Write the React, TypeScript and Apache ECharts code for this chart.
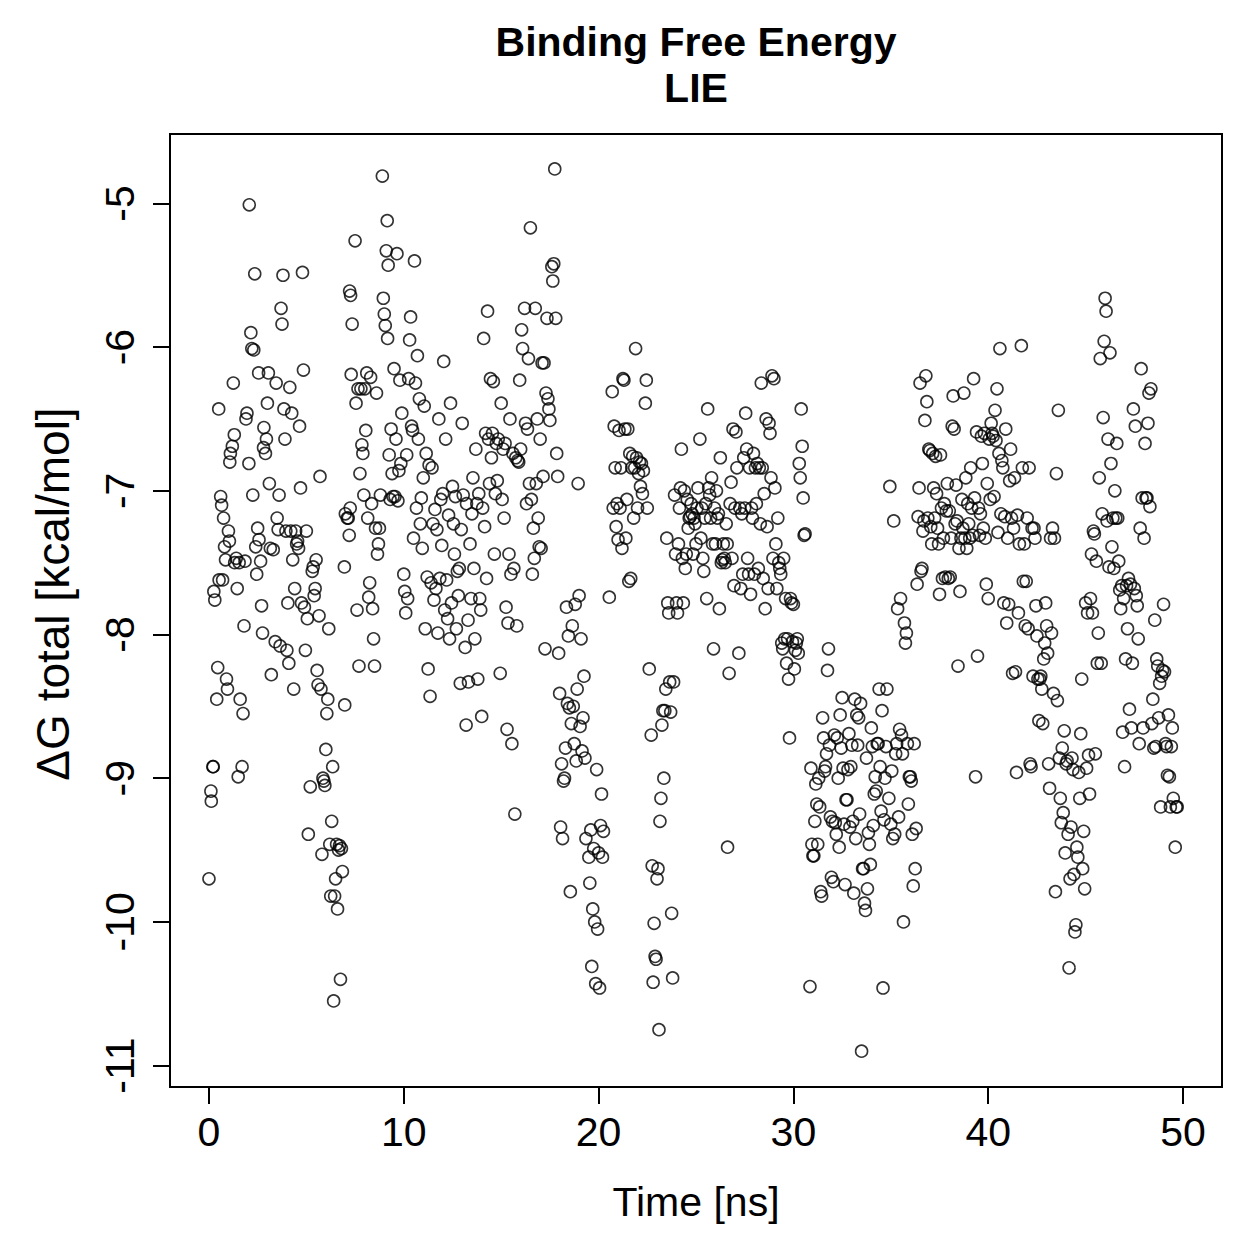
import React, { useEffect, useRef } from "react";
import * as echarts from "echarts";

// Axis ticks (ns / kcal·mol⁻¹) and plotting ranges (data range padded by 4 %)
const X_TICKS = [0, 10, 20, 30, 40, 50];
const Y_TICKS = [-11, -10, -9, -8, -7, -6, -5];
const X_MIN = -2;
const X_MAX = 52;
const Y_MIN = -11.149;
const Y_MAX = -4.517;

const TITLE = "Binding Free Energy";
const SUBTITLE = "LIE";
const X_NAME = "Time [ns]";
const Y_NAME = "ΔG total [kcal/mol]";

// LIE binding free energy along the trajectory: [time (ns), ΔG (kcal/mol)]
const dG_00_07: [number, number][] = [
  [0.1, -9.09], [0.12, -9.16], [0.0, -9.7], [0.25, -7.7], [0.3, -7.76], [0.2, -8.92], [0.22, -8.92], [0.45, -8.23],
  [0.5, -6.43], [0.52, -7.62], [0.4, -8.45], [0.6, -7.04], [0.65, -7.1], [0.7, -7.62], [0.75, -7.19], [0.8, -7.39],
  [0.85, -7.48], [0.9, -8.31], [0.95, -8.38], [1.0, -7.28], [1.05, -7.35], [1.07, -6.8], [1.1, -6.74], [1.2, -6.69],
  [1.3, -6.61], [1.25, -6.25], [1.32, -7.5], [1.4, -7.47], [1.45, -7.68], [1.5, -8.99], [1.55, -7.5], [1.6, -8.45],
  [1.7, -8.92], [1.75, -8.55], [1.8, -7.94], [1.85, -7.49], [1.9, -6.5], [1.95, -6.46], [2.05, -6.81], [2.07, -5.01],
  [2.15, -5.9], [2.2, -6.01], [2.25, -7.03], [2.3, -6.02], [2.35, -5.49], [2.4, -7.39], [2.45, -7.58], [2.5, -7.26],
  [2.55, -6.18], [2.57, -7.34], [2.65, -7.49], [2.7, -7.8], [2.75, -7.99], [2.8, -6.7], [2.82, -6.56], [2.9, -6.74],
  [2.95, -6.64], [3.0, -6.39], [3.05, -6.18], [3.1, -6.95], [3.15, -7.4], [3.2, -8.28], [3.3, -7.41], [3.4, -8.05],
  [3.45, -6.25], [3.5, -7.19], [3.55, -7.27], [3.6, -7.03], [3.65, -8.08], [3.7, -5.73], [3.75, -5.84], [3.8, -5.5],
  [3.85, -6.43], [3.9, -6.64], [3.95, -7.28], [4.0, -8.11], [4.05, -7.78], [4.1, -8.2], [4.15, -6.28], [4.2, -7.28],
  [4.25, -6.46], [4.3, -7.48], [4.35, -8.38], [4.4, -7.68], [4.45, -7.28], [4.5, -7.37], [4.55, -7.35], [4.6, -7.4],
  [4.65, -6.55], [4.7, -6.98], [4.75, -7.78], [4.8, -5.48], [4.85, -6.16], [4.9, -7.81], [4.95, -8.11], [5.0, -7.28],
  [5.05, -7.89], [5.1, -9.39], [5.2, -9.06], [5.3, -7.56], [5.35, -7.53], [5.4, -7.73], [5.45, -7.68], [5.5, -7.48],
  [5.55, -8.25], [5.6, -8.35], [5.65, -7.87], [5.7, -6.9], [5.75, -8.38], [5.8, -9.53], [5.85, -9.0], [5.9, -9.02],
  [5.95, -9.05], [6.0, -8.8], [6.05, -8.55], [6.1, -8.45], [6.15, -7.96], [6.2, -9.46], [6.25, -9.82], [6.3, -9.3],
  [6.35, -8.92], [6.4, -10.55], [6.45, -9.82], [6.5, -9.7], [6.55, -9.46], [6.6, -9.91], [6.65, -9.5], [6.7, -9.47],
  [6.75, -10.4], [6.8, -9.49], [6.85, -9.65], [6.95, -7.53], [6.97, -8.49],
];

const dG_07_14: [number, number][] = [
  [7.0, -7.16], [7.1, -7.19], [7.15, -7.19], [7.2, -7.31], [7.25, -7.12], [7.22, -5.61], [7.27, -5.64], [7.3, -6.19],
  [7.35, -5.84], [7.5, -5.26], [7.55, -6.39], [7.6, -7.83], [7.65, -6.29], [7.7, -8.22], [7.75, -6.88], [7.8, -6.29],
  [7.85, -6.68], [7.9, -6.74], [7.95, -7.03], [8.0, -6.29], [8.05, -6.58], [8.1, -6.18], [8.15, -7.19], [8.2, -7.74],
  [8.25, -7.64], [8.3, -6.21], [8.35, -7.09], [8.4, -7.82], [8.45, -8.03], [8.5, -8.22], [8.55, -7.26], [8.6, -6.32],
  [8.65, -7.44], [8.7, -7.37], [8.75, -7.26], [8.8, -7.03], [8.9, -4.81], [8.95, -5.66], [9.0, -5.77], [9.05, -5.85],
  [9.1, -5.33], [9.15, -5.12], [9.17, -5.94], [9.2, -5.43], [9.25, -6.75], [9.3, -7.06], [9.35, -6.57], [9.4, -6.88],
  [9.45, -7.04], [9.5, -6.15], [9.55, -7.04], [9.6, -6.64], [9.65, -5.35], [9.7, -7.07], [9.75, -6.86], [9.8, -6.23],
  [9.85, -6.81], [9.9, -6.46], [10.0, -7.58], [10.05, -7.7], [10.1, -7.85], [10.15, -6.75], [10.2, -7.75], [10.25, -6.22],
  [10.3, -5.95], [10.35, -5.79], [10.4, -6.55], [10.45, -6.58], [10.5, -7.33], [10.55, -5.4], [10.6, -6.25], [10.65, -7.12],
  [10.7, -6.06], [10.75, -6.64], [10.8, -6.36], [10.85, -7.23], [10.9, -7.05], [10.95, -7.4], [11.0, -6.91], [11.05, -6.41],
  [11.1, -7.96], [11.15, -6.74], [11.2, -7.6], [11.25, -8.24], [11.3, -6.82], [11.35, -8.43], [11.4, -7.64], [11.45, -6.84],
  [11.5, -7.23], [11.55, -7.76], [11.6, -7.13], [11.65, -7.68], [11.7, -7.27], [11.75, -7.99], [11.8, -6.5], [11.85, -7.61],
  [11.9, -7.06], [11.95, -7.38], [12.0, -7.02], [12.05, -6.1], [12.1, -7.83], [12.15, -6.64], [12.2, -7.62], [12.25, -7.89],
  [12.3, -7.17], [12.35, -8.03], [12.4, -6.39], [12.45, -7.78], [12.5, -6.97], [12.55, -7.23], [12.6, -7.44], [12.65, -7.04],
  [12.7, -7.96], [12.75, -7.56], [12.8, -7.73], [12.85, -7.54], [12.9, -8.34], [12.95, -7.27], [13.0, -6.53], [13.05, -7.03],
  [13.15, -8.09], [13.2, -8.63], [13.22, -7.09], [13.3, -7.9], [13.32, -8.33], [13.4, -7.37], [13.45, -7.75], [13.5, -7.16],
  [13.55, -6.91], [13.6, -7.54], [13.65, -8.03], [13.7, -6.71], [13.75, -7.09], [13.8, -8.31], [13.85, -7.02], [13.9, -7.75],
  [13.95, -7.83],
];

const dG_14_21: [number, number][] = [
  [14.0, -8.57], [14.05, -7.12], [14.1, -5.94], [14.15, -7.25], [14.2, -6.6], [14.25, -7.61], [14.3, -5.75], [14.35, -6.64],
  [14.4, -6.95], [14.45, -6.22], [14.5, -6.77], [14.55, -6.6], [14.6, -6.24], [14.65, -7.44], [14.7, -7.02], [14.75, -6.67],
  [14.8, -6.93], [14.85, -6.64], [14.95, -8.27], [15.0, -6.39], [15.05, -7.06], [15.1, -6.71], [15.15, -7.19], [15.2, -6.67],
  [15.25, -7.81], [15.3, -8.66], [15.35, -7.92], [15.4, -7.44], [15.45, -6.5], [15.5, -7.58], [15.55, -8.76], [15.6, -6.74],
  [15.65, -7.54], [15.7, -9.25], [15.75, -6.77], [15.8, -7.94], [15.85, -6.79], [15.9, -6.8], [15.95, -6.23], [16.0, -6.71],
  [16.05, -5.88], [16.1, -6.01], [16.2, -5.73], [16.25, -6.53], [16.3, -7.09], [16.35, -6.57], [16.4, -6.08], [16.45, -6.95],
  [16.5, -5.17], [16.55, -7.06], [16.6, -7.58], [16.65, -7.26], [16.7, -7.47], [16.75, -5.73], [16.8, -6.95], [16.85, -6.5],
  [16.9, -7.19], [16.95, -7.39], [17.0, -6.64], [17.05, -7.4], [17.1, -6.11], [17.15, -6.9], [17.2, -6.11], [17.25, -8.1],
  [17.3, -6.32], [17.35, -5.8], [17.4, -6.36], [17.45, -6.43], [17.5, -6.51], [17.6, -5.44], [17.65, -5.54], [17.7, -5.42],
  [17.75, -4.76], [17.8, -5.8], [17.85, -6.74], [17.9, -6.9], [17.95, -8.13], [18.0, -8.41], [18.05, -9.34], [18.1, -8.9],
  [18.15, -9.42], [18.2, -9.02], [18.25, -9.0], [18.3, -8.79], [18.35, -7.81], [18.4, -8.48], [18.45, -8.01], [18.5, -8.51],
  [18.55, -9.79], [18.6, -8.62], [18.65, -7.94], [18.7, -8.5], [18.75, -8.76], [18.8, -7.79], [18.85, -8.88], [18.9, -8.38],
  [18.95, -6.95], [19.0, -7.73], [19.05, -8.64], [19.1, -8.03], [19.15, -8.81], [19.2, -8.58], [19.25, -8.29], [19.3, -8.86],
  [19.35, -9.42], [19.5, -9.55], [19.55, -9.73], [19.6, -9.36], [19.65, -10.31], [19.7, -9.91], [19.75, -9.49], [19.8, -10.0],
  [19.85, -10.43], [19.9, -8.94], [19.95, -10.05], [20.0, -9.52], [20.05, -10.46], [20.1, -9.33], [20.15, -9.11], [20.2, -9.55],
  [20.25, -9.37], [20.55, -7.74], [20.7, -6.31], [20.75, -7.12], [20.8, -6.55], [20.85, -6.84], [20.9, -7.25], [20.95, -7.09],
];

const dG_21_30: [number, number][] = [
  [21.0, -7.34], [21.05, -6.58], [21.1, -7.12], [21.15, -6.84], [21.2, -7.4], [21.25, -6.22], [21.3, -6.23], [21.35, -6.57],
  [21.4, -7.33], [21.45, -7.06], [21.5, -6.57], [21.55, -7.63], [21.6, -6.74], [21.65, -7.61], [21.7, -6.84], [21.75, -6.76],
  [21.8, -7.19], [21.85, -6.84], [21.9, -6.01], [21.95, -6.77], [22.0, -7.12], [22.05, -6.88], [22.1, -6.8], [22.15, -6.97],
  [22.2, -6.81], [22.25, -7.02], [22.3, -6.86], [22.4, -6.39], [22.45, -6.23], [22.5, -7.12], [22.6, -8.24], [22.7, -8.7],
  [22.75, -9.61], [22.8, -10.42], [22.85, -10.01], [22.9, -10.24], [22.95, -10.26], [23.0, -9.7], [23.05, -9.63], [23.1, -10.75],
  [23.15, -9.3], [23.2, -9.14], [23.25, -8.63], [23.3, -8.53], [23.35, -9.0], [23.4, -8.53], [23.45, -8.38], [23.5, -7.33],
  [23.55, -7.78], [23.6, -7.85], [23.65, -8.33], [23.7, -8.54], [23.75, -9.94], [23.8, -10.39], [23.85, -8.33], [23.9, -7.03],
  [23.95, -7.44], [24.0, -7.78], [24.05, -7.85], [24.1, -7.37], [24.15, -7.12], [24.2, -6.98], [24.25, -6.71], [24.3, -7.47],
  [24.35, -7.78], [24.4, -7.0], [24.45, -7.54], [24.5, -7.44], [24.55, -7.06], [24.6, -7.26], [24.65, -7.19], [24.7, -7.18],
  [24.75, -7.09], [24.8, -7.16], [24.85, -7.44], [24.9, -7.19], [24.95, -7.23], [25.0, -7.37], [25.05, -7.12], [25.1, -6.98],
  [25.2, -6.64], [25.25, -7.33], [25.3, -7.12], [25.35, -7.47], [25.4, -7.56], [25.45, -7.19], [25.5, -7.09], [25.55, -7.75],
  [25.6, -6.43], [25.65, -6.98], [25.7, -7.03], [25.75, -7.19], [25.8, -6.91], [25.85, -7.37], [25.9, -8.1], [25.95, -7.12],
  [26.0, -7.37], [26.05, -7.0], [26.1, -7.19], [26.15, -7.16], [26.2, -7.82], [26.25, -6.77], [26.3, -7.5], [26.35, -7.48],
  [26.4, -7.37], [26.45, -7.47], [26.5, -7.5], [26.55, -7.23], [26.6, -7.37], [26.62, -9.48], [26.7, -8.27], [26.75, -7.09],
  [26.8, -6.94], [26.85, -7.47], [26.9, -6.57], [26.95, -7.66], [27.0, -7.12], [27.05, -6.59], [27.1, -6.84], [27.2, -8.13],
  [27.25, -7.12], [27.3, -7.68], [27.35, -7.16], [27.4, -7.58], [27.45, -6.77], [27.5, -7.12], [27.55, -6.46], [27.6, -6.71],
  [27.65, -7.47], [27.7, -7.58], [27.75, -6.84], [27.8, -7.72], [27.85, -7.12], [27.9, -7.19], [27.95, -6.74], [28.0, -7.58],
  [28.05, -6.84], [28.1, -7.09], [28.15, -6.81], [28.2, -7.54], [28.25, -6.84], [28.3, -7.23], [28.35, -6.25], [28.4, -6.84],
  [28.45, -7.61], [28.5, -7.02], [28.55, -7.82], [28.6, -6.5], [28.65, -7.25], [28.7, -7.68], [28.75, -6.53], [28.8, -6.6],
  [28.85, -6.91], [28.9, -6.2], [28.95, -7.47], [29.0, -6.22], [29.05, -6.98], [29.1, -7.37], [29.15, -7.68], [29.2, -7.19],
  [29.25, -7.5], [29.3, -7.54], [29.35, -7.58], [29.4, -8.06], [29.45, -8.1], [29.5, -7.47], [29.55, -8.03], [29.6, -7.75],
  [29.65, -8.2], [29.7, -8.03], [29.75, -8.31], [29.8, -8.72], [29.85, -7.75], [29.9, -7.78], [29.95, -8.05],
];

const dG_30_37: [number, number][] = [
  [30.0, -7.79], [30.05, -8.24], [30.1, -8.11], [30.15, -8.06], [30.2, -8.03], [30.25, -8.13], [30.3, -6.81], [30.35, -6.91],
  [30.4, -6.43], [30.45, -6.69], [30.5, -7.05], [30.55, -7.31], [30.6, -7.3], [30.85, -10.45], [30.9, -8.93], [30.95, -9.46],
  [31.0, -9.54], [31.05, -9.54], [31.1, -9.3], [31.15, -9.04], [31.2, -9.18], [31.25, -9.46], [31.3, -9.0], [31.35, -9.2],
  [31.4, -9.79], [31.45, -9.82], [31.5, -8.58], [31.55, -8.72], [31.6, -8.95], [31.65, -8.92], [31.7, -8.83], [31.75, -8.25],
  [31.8, -8.1], [31.85, -8.77], [31.9, -9.27], [31.95, -9.69], [32.0, -9.3], [32.05, -9.72], [32.1, -8.7], [32.15, -9.31],
  [32.2, -9.39], [32.25, -8.72], [32.3, -9.0], [32.35, -9.48], [32.4, -8.56], [32.45, -8.79], [32.5, -8.44], [32.55, -8.93],
  [32.6, -9.32], [32.65, -9.74], [32.7, -9.15], [32.75, -9.15], [32.8, -8.94], [32.85, -8.69], [32.9, -9.34], [32.95, -8.92],
  [33.0, -8.77], [33.05, -9.3], [33.1, -9.8], [33.15, -8.45], [33.2, -9.42], [33.25, -8.56], [33.3, -8.77], [33.35, -8.58],
  [33.4, -9.25], [33.45, -8.48], [33.5, -10.9], [33.55, -9.63], [33.6, -9.63], [33.65, -9.87], [33.7, -9.92], [33.75, -8.86],
  [33.8, -9.77], [33.85, -9.38], [33.9, -9.46], [33.95, -9.6], [34.0, -8.65], [34.05, -8.78], [34.1, -9.33], [34.15, -9.11],
  [34.2, -8.99], [34.25, -9.09], [34.3, -8.76], [34.35, -8.76], [34.4, -8.38], [34.45, -8.92], [34.5, -9.23], [34.55, -8.53],
  [34.6, -10.46], [34.65, -9.29], [34.7, -9.0], [34.75, -8.78], [34.8, -8.38], [34.9, -9.14], [34.95, -6.97], [35.0, -9.32],
  [35.05, -8.95], [35.1, -9.42], [35.15, -7.21], [35.2, -9.39], [35.25, -8.83], [35.3, -8.76], [35.35, -7.82], [35.4, -9.27],
  [35.45, -8.66], [35.5, -7.75], [35.55, -8.7], [35.6, -8.83], [35.65, -10.0], [35.7, -7.92], [35.75, -8.06], [35.8, -7.99],
  [35.85, -8.76], [35.9, -9.18], [35.95, -8.99], [36.0, -8.99], [36.05, -9.02], [36.1, -9.39], [36.15, -9.75], [36.2, -8.76],
  [36.25, -9.63], [36.3, -9.35], [36.35, -7.65], [36.4, -7.18], [36.45, -6.98], [36.5, -6.25], [36.55, -7.56], [36.6, -7.54],
  [36.65, -7.28], [36.7, -7.21], [36.75, -6.51], [36.8, -6.2], [36.85, -6.38], [36.9, -7.19], [36.95, -6.71],
];

const dG_37_44: [number, number][] = [
  [37.0, -6.72], [37.05, -7.25], [37.1, -7.37], [37.15, -6.74], [37.2, -6.98], [37.25, -7.19], [37.3, -6.76], [37.35, -7.02],
  [37.4, -7.26], [37.45, -7.37], [37.5, -7.72], [37.55, -6.75], [37.6, -7.12], [37.65, -7.61], [37.7, -7.33], [37.75, -7.09],
  [37.8, -7.6], [37.85, -7.14], [37.9, -6.95], [37.95, -7.61], [38.0, -7.14], [38.05, -7.6], [38.1, -7.33], [38.15, -6.55],
  [38.2, -6.34], [38.25, -6.57], [38.3, -7.23], [38.35, -6.96], [38.4, -7.21], [38.45, -8.22], [38.5, -7.4], [38.55, -7.7],
  [38.6, -7.33], [38.65, -7.06], [38.7, -7.26], [38.75, -6.32], [38.8, -7.33], [38.85, -6.91], [38.9, -7.4], [38.95, -7.09],
  [39.0, -7.23], [39.05, -7.33], [39.1, -6.84], [39.15, -7.12], [39.2, -7.31], [39.25, -6.22], [39.3, -7.05], [39.35, -8.99],
  [39.4, -6.59], [39.45, -8.15], [39.5, -7.12], [39.55, -7.31], [39.6, -7.16], [39.65, -6.62], [39.7, -6.81], [39.75, -7.26],
  [39.8, -6.6], [39.85, -7.33], [39.9, -7.65], [39.95, -6.95], [40.0, -7.75], [40.05, -6.64], [40.1, -7.06], [40.15, -6.53],
  [40.2, -6.6], [40.25, -6.62], [40.3, -7.04], [40.35, -6.44], [40.4, -6.65], [40.45, -6.29], [40.5, -7.29], [40.55, -6.74],
  [40.6, -6.01], [40.65, -7.16], [40.7, -6.79], [40.75, -6.84], [40.8, -7.78], [40.85, -7.18], [40.9, -6.57], [40.95, -7.92],
  [41.0, -7.33], [41.05, -7.79], [41.1, -6.93], [41.15, -6.71], [41.2, -7.19], [41.25, -8.27], [41.3, -7.26], [41.35, -6.91],
  [41.4, -8.26], [41.45, -8.96], [41.5, -7.17], [41.55, -7.85], [41.6, -7.37], [41.7, -5.99], [41.75, -6.84], [41.8, -7.63],
  [41.85, -7.37], [41.9, -7.94], [41.95, -7.63], [42.0, -7.19], [42.05, -7.96], [42.1, -6.84], [42.15, -8.9], [42.2, -8.92],
  [42.25, -7.26], [42.3, -8.29], [42.35, -7.26], [42.4, -7.33], [42.45, -7.8], [42.5, -8.01], [42.55, -8.31], [42.6, -8.6],
  [42.65, -8.31], [42.7, -8.29], [42.75, -8.38], [42.8, -8.62], [42.85, -8.17], [42.9, -8.06], [42.95, -7.78], [43.0, -7.94],
  [43.05, -8.13], [43.1, -8.9], [43.15, -9.07], [43.2, -7.33], [43.25, -7.99], [43.3, -7.26], [43.35, -8.41], [43.4, -7.33],
  [43.45, -9.79], [43.5, -6.88], [43.55, -8.46], [43.6, -6.44], [43.65, -8.86], [43.7, -9.14], [43.75, -9.31], [43.8, -8.79],
  [43.85, -9.24], [43.9, -8.67], [43.95, -9.52],
];

const dG_44_50: [number, number][] = [
  [44.0, -8.9], [44.05, -8.88], [44.1, -9.39], [44.15, -10.32], [44.2, -9.7], [44.25, -9.34], [44.3, -8.86], [44.35, -8.94],
  [44.4, -9.67], [44.45, -10.07], [44.5, -10.02], [44.55, -9.48], [44.6, -9.55], [44.65, -8.96], [44.7, -9.14], [44.75, -8.69],
  [44.8, -8.31], [44.85, -9.63], [44.9, -9.37], [44.95, -9.77], [45.0, -7.78], [45.05, -8.93], [45.1, -7.85], [45.15, -8.84],
  [45.2, -9.11], [45.25, -7.75], [45.3, -7.44], [45.35, -7.85], [45.4, -7.28], [45.45, -7.3], [45.5, -8.83], [45.55, -7.49],
  [45.6, -8.2], [45.65, -7.99], [45.7, -6.91], [45.75, -6.08], [45.8, -8.2], [45.85, -7.16], [45.9, -6.49], [45.95, -5.96],
  [46.0, -5.66], [46.05, -5.75], [46.1, -7.21], [46.15, -6.64], [46.2, -7.53], [46.25, -6.04], [46.3, -6.81], [46.35, -7.39],
  [46.4, -7.19], [46.45, -7.54], [46.5, -7.0], [46.55, -7.19], [46.6, -6.67], [46.65, -7.19], [46.7, -7.49], [46.75, -7.69],
  [46.8, -7.82], [46.85, -7.66], [46.9, -8.68], [46.95, -7.75], [47.0, -8.92], [47.05, -8.17], [47.1, -7.66], [47.15, -7.96],
  [47.2, -7.61], [47.25, -8.52], [47.3, -7.65], [47.35, -8.65], [47.4, -8.2], [47.45, -6.43], [47.5, -7.68], [47.55, -6.55],
  [47.6, -7.73], [47.65, -7.8], [47.7, -8.03], [47.75, -8.76], [47.8, -7.26], [47.85, -6.15], [47.9, -7.05], [47.95, -8.65],
  [48.0, -7.33], [48.05, -6.67], [48.1, -7.05], [48.15, -7.05], [48.2, -6.53], [48.25, -6.32], [48.3, -7.11], [48.35, -6.29],
  [48.4, -8.62], [48.45, -8.45], [48.5, -8.79], [48.55, -7.9], [48.6, -8.78], [48.65, -8.17], [48.7, -8.22], [48.75, -8.58],
  [48.8, -8.34], [48.85, -9.2], [48.9, -8.29], [48.95, -8.25], [49.0, -7.79], [49.05, -8.26], [49.1, -8.76], [49.15, -8.78],
  [49.2, -8.98], [49.25, -8.56], [49.3, -8.99], [49.35, -9.2], [49.4, -8.78], [49.45, -8.65], [49.5, -9.14], [49.6, -9.48],
  [49.65, -9.2], [49.7, -9.2],
];

const allPoints = [
  ...dG_00_07, ...dG_07_14, ...dG_14_21, ...dG_21_30, ...dG_30_37, ...dG_37_44, ...dG_44_50,
];

const FONT = '"Liberation Sans", Arial, Helvetica, sans-serif';

export default function App() {
  const ref = useRef<HTMLDivElement>(null);

  useEffect(() => {
    if (!ref.current) return;
    const chart = echarts.init(ref.current, null, { renderer: "svg" });
    chart.setOption({
      animation: false,
      backgroundColor: "#ffffff",
      grid: {
        left: 170,
        top: 134,
        width: 1052,
        height: 953,
        show: true,
        borderColor: "#000",
        borderWidth: 2,
        backgroundColor: "transparent",
      },
      xAxis: {
        type: "value",
        min: X_MIN,
        max: X_MAX,
        axisLine: { show: false, onZero: false },
        splitLine: { show: false },
        axisTick: {
          show: true,
          inside: false,
          length: 17,
          customValues: X_TICKS,
          lineStyle: { color: "#000", width: 2 },
        },
        axisLabel: {
          customValues: X_TICKS,
          margin: 24,
          color: "#000",
          fontSize: 41,
          fontFamily: FONT,
        },
      },
      yAxis: {
        type: "value",
        min: Y_MIN,
        max: Y_MAX,
        axisLine: { show: false, onZero: false },
        splitLine: { show: false },
        axisTick: {
          show: true,
          inside: false,
          length: 17,
          customValues: Y_TICKS,
          lineStyle: { color: "#000", width: 2 },
        },
        axisLabel: {
          customValues: Y_TICKS,
          rotate: 90,
          margin: 30,
          color: "#000",
          fontSize: 41,
          fontFamily: FONT,
        },
      },
      graphic: [
        {
          type: "text",
          x: 696,
          y: 42,
          style: {
            text: TITLE,
            font: `bold 41px ${FONT}`,
            fill: "#000",
            textAlign: "center",
            textVerticalAlign: "middle",
          },
        },
        {
          type: "text",
          x: 696,
          y: 88,
          style: {
            text: SUBTITLE,
            font: `bold 41px ${FONT}`,
            fill: "#000",
            textAlign: "center",
            textVerticalAlign: "middle",
          },
        },
        {
          type: "text",
          x: 696,
          y: 1202,
          style: {
            text: X_NAME,
            font: `41px ${FONT}`,
            fill: "#000",
            textAlign: "center",
            textVerticalAlign: "middle",
          },
        },
        {
          type: "text",
          x: 53,
          y: 594,
          rotation: Math.PI / 2,
          style: {
            text: Y_NAME,
            font: `46px ${FONT}`,
            fill: "#000",
            textAlign: "center",
            textVerticalAlign: "middle",
          },
        },
      ],
      series: [
        {
          type: "scatter",
          data: allPoints,
          symbol: "circle",
          symbolSize: 12,
          itemStyle: {
            color: "rgba(0,0,0,0)",
            borderColor: "#000",
            borderWidth: 1.6,
          },
          emphasis: { disabled: true },
        },
      ],
    });
    return () => chart.dispose();
  }, []);

  return (
    <div
      ref={ref}
      style={{ position: "absolute", left: 0, top: 0, width: 1259, height: 1259, background: "#fff" }}
    />
  );
}
